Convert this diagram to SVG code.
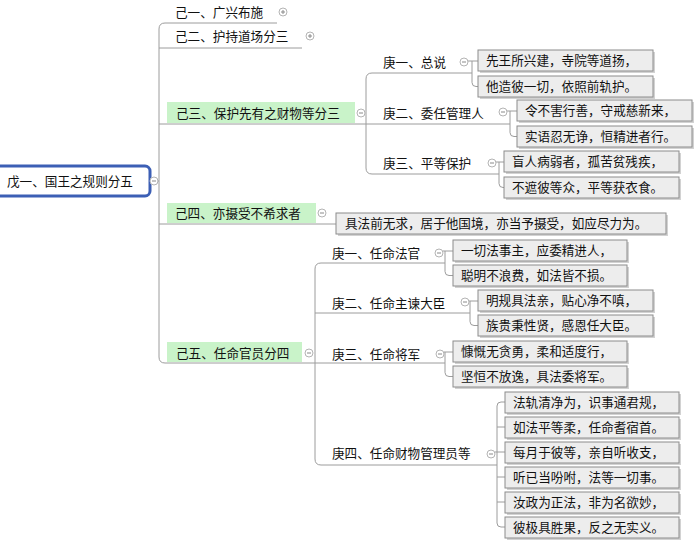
<svg xmlns="http://www.w3.org/2000/svg" width="697" height="546" viewBox="0 0 697 546">
<style>
text{font-family:"Noto Sans CJK SC","Noto Sans",sans-serif;font-size:12.6px;fill:#111}
.ln{fill:none;stroke:#9c9c9c;stroke-width:1}
.bx{fill:#ededed;stroke:#8c8c8c;stroke-width:1}
.sh{fill:#d2d2d2}
.gr{fill:#c9f3c9}
.ci{fill:#fff;stroke:#b4b4b4;stroke-width:1}
.cm{stroke:#8a8a8a;stroke-width:1}
</style>
<defs>
<g id="minus"><circle class="ci" r="4"/><path class="cm" d="M-2,0H2"/></g>
<g id="plus"><circle class="ci" r="4"/><path class="cm" d="M-2,0H2M0,-2V2"/></g>
</defs>
<rect width="697" height="546" fill="#fff"/>

<g id="connectors">
<path class="ln" d="M277,23H165Q159,23 159,29V357Q159,363 165,363H445"/>
<path class="ln" d="M159,48H302"/>
<path class="ln" d="M159,124H510"/>
<path class="ln" d="M150,181H159"/>
<path class="ln" d="M159,224H336"/>
<path class="ln" d="M472,73H372Q366,73 366,79V168Q366,174 372,174H499"/>
<path class="ln" d="M445,263H321Q315,263 315,269V459Q315,465 321,465H497"/>
<path class="ln" d="M315,313H470"/>
<!-- brackets -->
<path class="ln" d="M468,61H478M472,61V82.5Q472,86.5 476,86.5H478"/>
<path class="ln" d="M507,111H517M510,111V132.5Q510,136.5 514,136.5H517"/>
<path class="ln" d="M496,162H504M499,162V183.5Q499,187.5 503,187.5H504"/>
<path class="ln" d="M443,251H453M445,251V271.5Q445,275.5 449,275.5H453"/>
<path class="ln" d="M469,301H478M470,301V321.5Q470,325.5 474,325.5H478"/>
<path class="ln" d="M444,352H453M445,352V372.5Q445,376.5 449,376.5H453"/>
<path class="ln" d="M505,402H501Q497,402 497,406V523Q497,527 501,527H505M497,427H505M495,452H505M497,477H505M497,502H505"/>
</g>

<g id="root">
<rect x="-6" y="166" width="156" height="30" rx="5" fill="#fff" stroke="#3c5fb5" stroke-width="3"/>
<text x="7" y="185.5">戊一、国王之规则分五</text>
<use href="#minus" x="154" y="181"/>
</g>

<g id="ji1">
<text x="175" y="16.5">己一、广兴布施</text>
<use href="#plus" x="283" y="12"/>
</g>
<g id="ji2">
<text x="175" y="40.5">己二、护持道场分三</text>
<use href="#plus" x="310" y="36"/>
</g>
<g id="ji3">
<rect class="gr" x="167" y="102" width="188" height="21"/>
<text x="176" y="117.5">己三、保护先有之财物等分三</text>
<use href="#minus" x="361" y="113"/>
</g>
<g id="ji4">
<rect class="gr" x="167" y="203" width="149" height="20"/>
<text x="175" y="217.5">己四、亦摄受不希求者</text>
<use href="#minus" x="322" y="213"/>
</g>
<g id="ji5">
<rect class="gr" x="167" y="342" width="135" height="20"/>
<text x="176" y="357.5">己五、任命官员分四</text>
<use href="#minus" x="309" y="353"/>
</g>

<g id="geng1a">
<text x="383" y="66.5">庚一、总说</text>
<use href="#minus" x="464" y="62"/>
</g>
<g id="geng2a">
<text x="383" y="117.5">庚二、委任管理人</text>
<use href="#minus" x="503" y="112"/>
</g>
<g id="geng3a">
<text x="383" y="167.5">庚三、平等保护</text>
<use href="#minus" x="492" y="163"/>
</g>
<g id="geng1b">
<text x="332" y="257.5">庚一、任命法官</text>
<use href="#minus" x="439" y="253"/>
</g>
<g id="geng2b">
<text x="332" y="307.5">庚二、任命主谏大臣</text>
<use href="#minus" x="465" y="302"/>
</g>
<g id="geng3b">
<text x="332" y="358.5">庚三、任命将军</text>
<use href="#minus" x="440" y="354"/>
</g>
<g id="geng4b">
<text x="332" y="457.5">庚四、任命财物管理员等</text>
<use href="#minus" x="491" y="454"/>
</g>

<g id="v1"><rect class="sh" x="480" y="52" width="175" height="21"/><rect class="bx" x="478" y="50" width="175" height="21"/><text x="486" y="65">先王所兴建，寺院等道扬，</text></g>
<g id="v2"><rect class="sh" x="480" y="78" width="175" height="21"/><rect class="bx" x="478" y="76" width="175" height="21"/><text x="486" y="91">他造彼一切，依照前轨护。</text></g>
<g id="v3"><rect class="sh" x="519" y="102" width="175" height="21"/><rect class="bx" x="517" y="100" width="175" height="21"/><text x="525" y="115">令不害行善，守戒慈新来，</text></g>
<g id="v4"><rect class="sh" x="519" y="128" width="175" height="21"/><rect class="bx" x="517" y="126" width="175" height="21"/><text x="525" y="141">实语忍无诤，恒精进者行。</text></g>
<g id="v5"><rect class="sh" x="506" y="153" width="175" height="21"/><rect class="bx" x="504" y="151" width="175" height="21"/><text x="512" y="166">盲人病弱者，孤苦贫残疾，</text></g>
<g id="v6"><rect class="sh" x="506" y="179" width="175" height="21"/><rect class="bx" x="504" y="177" width="175" height="21"/><text x="512" y="192">不遮彼等众，平等获衣食。</text></g>
<g id="v7"><rect class="sh" x="338" y="215" width="330" height="21"/><rect class="bx" x="336" y="213" width="330" height="21"/><text x="345" y="228">具法前无求，居于他国境，亦当予摄受，如应尽力为。</text></g>
<g id="v8"><rect class="sh" x="455" y="242" width="174" height="21"/><rect class="bx" x="453" y="240" width="174" height="21"/><text x="461" y="255">一切法事主，应委精进人，</text></g>
<g id="v9"><rect class="sh" x="455" y="267" width="174" height="21"/><rect class="bx" x="453" y="265" width="174" height="21"/><text x="461" y="280">聪明不浪费，如法皆不损。</text></g>
<g id="v10"><rect class="sh" x="480" y="292" width="175" height="21"/><rect class="bx" x="478" y="290" width="175" height="21"/><text x="486" y="305">明规具法亲，贴心净不嗔，</text></g>
<g id="v11"><rect class="sh" x="480" y="317" width="175" height="21"/><rect class="bx" x="478" y="315" width="175" height="21"/><text x="486" y="330">族贵秉性贤，感恩任大臣。</text></g>
<g id="v12"><rect class="sh" x="455" y="343" width="174" height="21"/><rect class="bx" x="453" y="341" width="174" height="21"/><text x="461" y="356">慷慨无贪勇，柔和适度行，</text></g>
<g id="v13"><rect class="sh" x="455" y="368" width="174" height="21"/><rect class="bx" x="453" y="366" width="174" height="21"/><text x="461" y="381">坚恒不放逸，具法委将军。</text></g>
<g id="v14"><rect class="sh" x="507" y="394" width="174" height="21"/><rect class="bx" x="505" y="392" width="174" height="21"/><text x="513" y="407">法轨清净为，识事通君规，</text></g>
<g id="v15"><rect class="sh" x="507" y="419" width="174" height="21"/><rect class="bx" x="505" y="417" width="174" height="21"/><text x="513" y="432">如法平等柔，任命耆宿首。</text></g>
<g id="v16"><rect class="sh" x="507" y="444" width="174" height="21"/><rect class="bx" x="505" y="442" width="174" height="21"/><text x="513" y="457">每月于彼等，亲自听收支，</text></g>
<g id="v17"><rect class="sh" x="507" y="469" width="174" height="21"/><rect class="bx" x="505" y="467" width="174" height="21"/><text x="513" y="482">听已当吩咐，法等一切事。</text></g>
<g id="v18"><rect class="sh" x="507" y="494" width="174" height="21"/><rect class="bx" x="505" y="492" width="174" height="21"/><text x="513" y="507">汝政为正法，非为名欲妙，</text></g>
<g id="v19"><rect class="sh" x="507" y="519" width="174" height="21"/><rect class="bx" x="505" y="517" width="174" height="21"/><text x="513" y="532">彼极具胜果，反之无实义。</text></g>
</svg>
